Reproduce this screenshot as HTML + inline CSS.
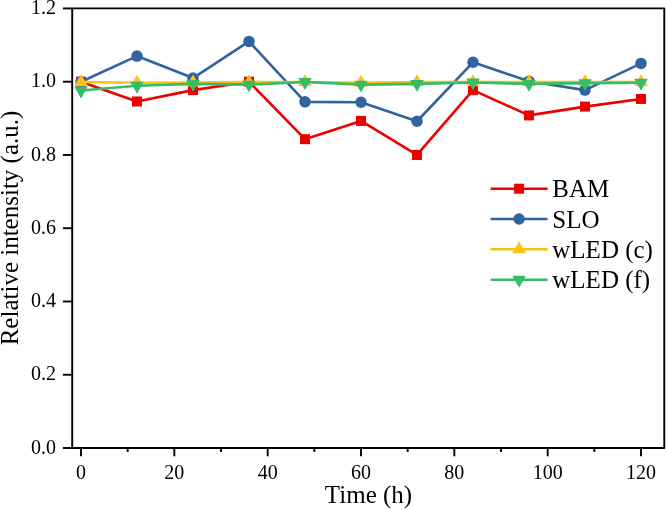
<!DOCTYPE html>
<html><head><meta charset="utf-8"><style>
html,body{margin:0;padding:0;background:#fff;width:666px;height:509px;overflow:hidden}
svg{display:block;will-change:transform}
text{font-family:"Liberation Serif",serif;fill:#000}
.tl{font-size:20px}
.tt{font-size:25px}
.lg{font-size:25px}
</style></head><body>
<svg width="666" height="509" viewBox="0 0 666 509">
<polyline points="81.00,81.70 137.00,101.48 193.00,90.12 249.00,81.70 305.00,139.21 361.00,120.89 417.00,154.96 473.00,90.12 529.00,115.40 585.00,106.61 641.00,98.92" fill="none" stroke="#ec0000" stroke-width="2.6" stroke-linejoin="round"/>
<rect x="76.00" y="76.70" width="10" height="10" fill="#ec0000"/>
<rect x="132.00" y="96.48" width="10" height="10" fill="#ec0000"/>
<rect x="188.00" y="85.12" width="10" height="10" fill="#ec0000"/>
<rect x="244.00" y="76.70" width="10" height="10" fill="#ec0000"/>
<rect x="300.00" y="134.21" width="10" height="10" fill="#ec0000"/>
<rect x="356.00" y="115.89" width="10" height="10" fill="#ec0000"/>
<rect x="412.00" y="149.96" width="10" height="10" fill="#ec0000"/>
<rect x="468.00" y="85.12" width="10" height="10" fill="#ec0000"/>
<rect x="524.00" y="110.40" width="10" height="10" fill="#ec0000"/>
<rect x="580.00" y="101.61" width="10" height="10" fill="#ec0000"/>
<rect x="636.00" y="93.92" width="10" height="10" fill="#ec0000"/>
<polyline points="81.00,81.70 137.00,56.06 193.00,78.04 249.00,41.41 305.00,101.85 361.00,102.21 417.00,121.26 473.00,62.29 529.00,81.33 585.00,90.12 641.00,63.38" fill="none" stroke="#31639e" stroke-width="2.6" stroke-linejoin="round"/>
<circle cx="81.00" cy="81.70" r="5.75" fill="#31639e"/>
<circle cx="137.00" cy="56.06" r="5.75" fill="#31639e"/>
<circle cx="193.00" cy="78.04" r="5.75" fill="#31639e"/>
<circle cx="249.00" cy="41.41" r="5.75" fill="#31639e"/>
<circle cx="305.00" cy="101.85" r="5.75" fill="#31639e"/>
<circle cx="361.00" cy="102.21" r="5.75" fill="#31639e"/>
<circle cx="417.00" cy="121.26" r="5.75" fill="#31639e"/>
<circle cx="473.00" cy="62.29" r="5.75" fill="#31639e"/>
<circle cx="529.00" cy="81.33" r="5.75" fill="#31639e"/>
<circle cx="585.00" cy="90.12" r="5.75" fill="#31639e"/>
<circle cx="641.00" cy="63.38" r="5.75" fill="#31639e"/>
<polyline points="81.00,82.07 137.00,82.80 193.00,82.43 249.00,82.07 305.00,82.07 361.00,82.80 417.00,82.07 473.00,82.07 529.00,82.07 585.00,82.07 641.00,82.07" fill="none" stroke="#ffc010" stroke-width="2.6" stroke-linejoin="round"/>
<polygon points="81.00,74.13 74.20,86.03 87.80,86.03" fill="#ffc010"/>
<polygon points="137.00,74.87 130.20,86.77 143.80,86.77" fill="#ffc010"/>
<polygon points="193.00,74.50 186.20,86.40 199.80,86.40" fill="#ffc010"/>
<polygon points="249.00,74.13 242.20,86.03 255.80,86.03" fill="#ffc010"/>
<polygon points="305.00,74.13 298.20,86.03 311.80,86.03" fill="#ffc010"/>
<polygon points="361.00,74.87 354.20,86.77 367.80,86.77" fill="#ffc010"/>
<polygon points="417.00,74.13 410.20,86.03 423.80,86.03" fill="#ffc010"/>
<polygon points="473.00,74.13 466.20,86.03 479.80,86.03" fill="#ffc010"/>
<polygon points="529.00,74.13 522.20,86.03 535.80,86.03" fill="#ffc010"/>
<polygon points="585.00,74.13 578.20,86.03 591.80,86.03" fill="#ffc010"/>
<polygon points="641.00,74.13 634.20,86.03 647.80,86.03" fill="#ffc010"/>
<polyline points="81.00,90.49 137.00,85.73 193.00,83.90 249.00,84.63 305.00,82.07 361.00,84.63 417.00,83.90 473.00,82.43 529.00,83.90 585.00,83.17 641.00,82.80" fill="none" stroke="#36bc65" stroke-width="2.6" stroke-linejoin="round"/>
<polygon points="74.20,86.52 87.80,86.52 81.00,98.42" fill="#36bc65"/>
<polygon points="130.20,81.76 143.80,81.76 137.00,93.66" fill="#36bc65"/>
<polygon points="186.20,79.93 199.80,79.93 193.00,91.83" fill="#36bc65"/>
<polygon points="242.20,80.66 255.80,80.66 249.00,92.56" fill="#36bc65"/>
<polygon points="298.20,78.10 311.80,78.10 305.00,90.00" fill="#36bc65"/>
<polygon points="354.20,80.66 367.80,80.66 361.00,92.56" fill="#36bc65"/>
<polygon points="410.20,79.93 423.80,79.93 417.00,91.83" fill="#36bc65"/>
<polygon points="466.20,78.47 479.80,78.47 473.00,90.37" fill="#36bc65"/>
<polygon points="522.20,79.93 535.80,79.93 529.00,91.83" fill="#36bc65"/>
<polygon points="578.20,79.20 591.80,79.20 585.00,91.10" fill="#36bc65"/>
<polygon points="634.20,78.83 647.80,78.83 641.00,90.73" fill="#36bc65"/>
<rect x="72.2" y="8.4" width="592.0999999999999" height="439.6" fill="none" stroke="#000" stroke-width="1.9" stroke-linejoin="round"/>
<line x1="62.900000000000006" y1="448.00" x2="72.2" y2="448.00" stroke="#000" stroke-width="1.9"/>
<text x="56" y="453.60" text-anchor="end" class="tl">0.0</text>
<line x1="62.900000000000006" y1="374.74" x2="72.2" y2="374.74" stroke="#000" stroke-width="1.9"/>
<text x="56" y="380.34" text-anchor="end" class="tl">0.2</text>
<line x1="62.900000000000006" y1="301.48" x2="72.2" y2="301.48" stroke="#000" stroke-width="1.9"/>
<text x="56" y="307.08" text-anchor="end" class="tl">0.4</text>
<line x1="62.900000000000006" y1="228.22" x2="72.2" y2="228.22" stroke="#000" stroke-width="1.9"/>
<text x="56" y="233.82" text-anchor="end" class="tl">0.6</text>
<line x1="62.900000000000006" y1="154.96" x2="72.2" y2="154.96" stroke="#000" stroke-width="1.9"/>
<text x="56" y="160.56" text-anchor="end" class="tl">0.8</text>
<line x1="62.900000000000006" y1="81.70" x2="72.2" y2="81.70" stroke="#000" stroke-width="1.9"/>
<text x="56" y="87.30" text-anchor="end" class="tl">1.0</text>
<line x1="62.900000000000006" y1="8.44" x2="72.2" y2="8.44" stroke="#000" stroke-width="1.9"/>
<text x="56" y="14.04" text-anchor="end" class="tl">1.2</text>
<line x1="81.00" y1="448.0" x2="81.00" y2="456.3" stroke="#000" stroke-width="1.9"/>
<text x="81.00" y="478.8" text-anchor="middle" class="tl">0</text>
<line x1="127.67" y1="448.0" x2="127.67" y2="452.0" stroke="#000" stroke-width="1.9"/>
<line x1="174.33" y1="448.0" x2="174.33" y2="456.3" stroke="#000" stroke-width="1.9"/>
<text x="174.33" y="478.8" text-anchor="middle" class="tl">20</text>
<line x1="221.00" y1="448.0" x2="221.00" y2="452.0" stroke="#000" stroke-width="1.9"/>
<line x1="267.67" y1="448.0" x2="267.67" y2="456.3" stroke="#000" stroke-width="1.9"/>
<text x="267.67" y="478.8" text-anchor="middle" class="tl">40</text>
<line x1="314.33" y1="448.0" x2="314.33" y2="452.0" stroke="#000" stroke-width="1.9"/>
<line x1="361.00" y1="448.0" x2="361.00" y2="456.3" stroke="#000" stroke-width="1.9"/>
<text x="361.00" y="478.8" text-anchor="middle" class="tl">60</text>
<line x1="407.67" y1="448.0" x2="407.67" y2="452.0" stroke="#000" stroke-width="1.9"/>
<line x1="454.33" y1="448.0" x2="454.33" y2="456.3" stroke="#000" stroke-width="1.9"/>
<text x="454.33" y="478.8" text-anchor="middle" class="tl">80</text>
<line x1="501.00" y1="448.0" x2="501.00" y2="452.0" stroke="#000" stroke-width="1.9"/>
<line x1="547.67" y1="448.0" x2="547.67" y2="456.3" stroke="#000" stroke-width="1.9"/>
<text x="547.67" y="478.8" text-anchor="middle" class="tl">100</text>
<line x1="594.33" y1="448.0" x2="594.33" y2="452.0" stroke="#000" stroke-width="1.9"/>
<line x1="641.00" y1="448.0" x2="641.00" y2="456.3" stroke="#000" stroke-width="1.9"/>
<text x="641.00" y="478.8" text-anchor="middle" class="tl">120</text>
<text x="368.5" y="502.8" text-anchor="middle" class="tt">Time (h)</text>
<text transform="translate(17.6,228) rotate(-90)" text-anchor="middle" class="tt">Relative intensity (a.u.)</text>
<line x1="490.6" y1="188.7" x2="547.6" y2="188.7" stroke="#ec0000" stroke-width="2.6"/>
<rect x="514.10" y="183.70" width="10" height="10" fill="#ec0000"/>
<text x="552.3" y="197.20" class="lg">BAM</text>
<line x1="490.6" y1="219.0" x2="547.6" y2="219.0" stroke="#31639e" stroke-width="2.6"/>
<circle cx="519.10" cy="219.00" r="5.75" fill="#31639e"/>
<text x="552.3" y="227.50" class="lg">SLO</text>
<line x1="490.6" y1="249.3" x2="547.6" y2="249.3" stroke="#ffc010" stroke-width="2.6"/>
<polygon points="519.10,241.37 512.30,253.27 525.90,253.27" fill="#ffc010"/>
<text x="552.3" y="257.80" class="lg">wLED (c)</text>
<line x1="490.6" y1="279.7" x2="547.6" y2="279.7" stroke="#36bc65" stroke-width="2.6"/>
<polygon points="512.30,275.73 525.90,275.73 519.10,287.63" fill="#36bc65"/>
<text x="552.3" y="288.20" class="lg">wLED (f)</text>
</svg>
</body></html>
